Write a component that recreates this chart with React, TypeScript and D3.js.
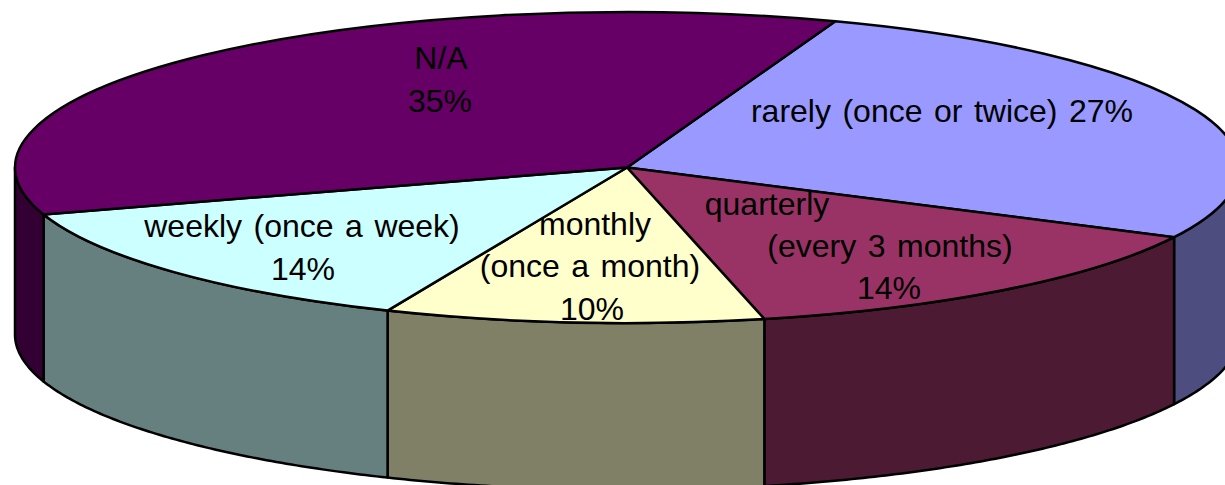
import React from "react";
import * as d3 from "d3";

const categories = ["rarely (once or twice)", "quarterly (every 3 months)", "monthly (once a month)", "weekly (once a week)", "N/A"];
const values = [26.87, 14, 10, 13.72, 35.41];
const topColors = ["#9999FF", "#993366", "#FFFFCC", "#CCFFFF", "#660066"];
const sideColors = ["#4D4D80", "#4D1A33", "#808066", "#668080", "#330033"];

const labelLines = [
  { text: "N/A", x: 441, y: 69 },
  { text: "35%", x: 440, y: 112 },
  { text: "rarely (once or twice) 27%", x: 942, y: 122 },
  { text: "quarterly", x: 767, y: 215 },
  { text: "(every 3 months)", x: 890, y: 257 },
  { text: "14%", x: 889, y: 299 },
  { text: "monthly", x: 595, y: 235 },
  { text: "(once a month)", x: 590, y: 277 },
  { text: "10%", x: 592, y: 320 },
  { text: "weekly (once a week)", x: 302, y: 237 },
  { text: "14%", x: 303, y: 280 },
];

const W = 1225, H = 485;
const cx = 627, cy = 167.5, rx = 612, ry = 155.5, depth = 167;
const startDeg = 19.9;

const pie = d3.pie<number>().sort(null)
  .startAngle((startDeg * Math.PI) / 180)
  .endAngle(((startDeg + 360) * Math.PI) / 180);
const arcs = pie(values);
const arcGen = d3.arc<d3.PieArcDatum<number>>().innerRadius(0).outerRadius(rx);

// angle is clockwise from the top, as in d3.arc
const pt = (a: number, dy = 0): [number, number] => [cx + rx * Math.sin(a), cy - ry * Math.cos(a) + dy];
const line = d3.line();

function sidePath(a0: number, a1: number) {
  const lo = Math.max(a0, Math.PI / 2);
  const hi = Math.min(a1, (3 * Math.PI) / 2);
  if (hi <= lo) return null;
  const n = Math.ceil((hi - lo) / 0.01);
  const ts = d3.range(n + 1).map((i) => lo + ((hi - lo) * i) / n);
  const pts = [...ts.map((t) => pt(t)), ...ts.slice().reverse().map((t) => pt(t, depth))];
  return line(pts) + "Z";
}

export default function App() {
  const sides = arcs.flatMap((a, i) => {
    const out: { d: string; c: string; k: string }[] = [];
    const d1 = sidePath(a.startAngle, a.endAngle);
    if (d1) out.push({ d: d1, c: sideColors[i], k: `${categories[i]}-a` });
    const d2 = sidePath(a.startAngle - 2 * Math.PI, a.endAngle - 2 * Math.PI);
    if (d2) out.push({ d: d2, c: sideColors[i], k: `${categories[i]}-b` });
    return out;
  });
  return (
    <svg
      width={W}
      height={H}
      viewBox={`0 0 ${W} ${H}`}
      style={{ position: "absolute", left: 0, top: 0, display: "block", background: "#fff" }}
    >
      <g stroke="#000" strokeWidth={2.5} strokeLinejoin="round">
        {sides.map((s) => (
          <path key={s.k} d={s.d} fill={s.c} />
        ))}
      </g>
      <g transform={`translate(${cx},${cy}) scale(1,${ry / rx})`}>
        {arcs.map((a, i) => (
          <path
            key={categories[i]}
            d={arcGen(a) as string}
            fill={topColors[i]}
            stroke="#000"
            strokeWidth={2.5}
            strokeLinejoin="round"
            vectorEffect="non-scaling-stroke"
          />
        ))}
      </g>
      <g fontFamily="'Liberation Sans', Arial, sans-serif" fontSize={32} wordSpacing={2.6} fill="#000" textAnchor="middle">
        {labelLines.map((l, i) => (
          <text key={i} x={l.x} y={l.y}>{l.text}</text>
        ))}
      </g>
    </svg>
  );
}
